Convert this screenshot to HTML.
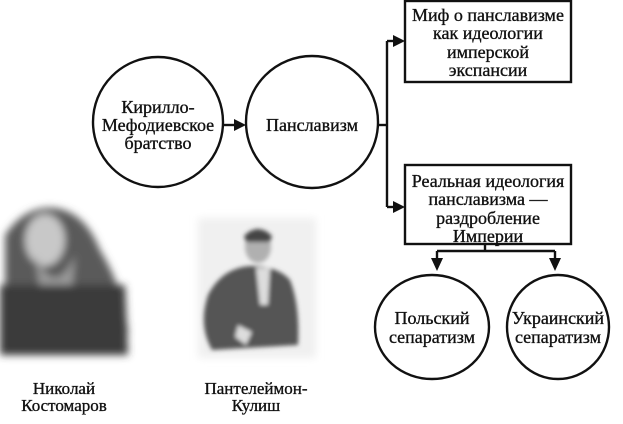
<!DOCTYPE html>
<html><head><meta charset="utf-8"><style>
html,body{margin:0;padding:0;background:#fff;}
svg{display:block;}
text{font-family:"Liberation Serif","DejaVu Serif",serif;font-size:18px;fill:#111;stroke:#111;stroke-width:0.35;text-anchor:middle;}
</style></head><body>
<svg width="623" height="424" viewBox="0 0 623 424" xmlns="http://www.w3.org/2000/svg">
<defs>
<filter id="bl" x="-20%" y="-20%" width="140%" height="140%"><feGaussianBlur stdDeviation="4"/></filter>
<filter id="bl2"><feGaussianBlur stdDeviation="2"/></filter>
</defs>
<g stroke="#111" stroke-width="2.4" fill="none">
<circle cx="158" cy="122" r="65"/>
<circle cx="312" cy="122" r="66"/>
<line x1="224" y1="125" x2="236" y2="125"/>
<line x1="378" y1="125" x2="387" y2="125"/>
<line x1="387" y1="41" x2="387" y2="207"/>
<line x1="387" y1="41" x2="394" y2="41"/>
<line x1="387" y1="207" x2="394" y2="207"/>
<rect x="405" y="1" width="166" height="81"/>
<rect x="405" y="165" width="166" height="79"/>
<line x1="485" y1="244" x2="485" y2="251"/>
<line x1="437" y1="251" x2="555" y2="251"/>
<line x1="437" y1="251" x2="437" y2="258"/>
<line x1="555" y1="251" x2="555" y2="258"/>
<ellipse cx="432" cy="327" rx="57" ry="52"/>
<ellipse cx="558" cy="327" rx="51" ry="52"/>
</g>
<g fill="#111">
<polygon points="246,125 234,119 234,131"/>
<polygon points="405,41 393,35 393,47"/>
<polygon points="405,207 393,201 393,213"/>
<polygon points="437,271 431,258 443,258"/>
<polygon points="555,271 549,258 561,258"/>
</g>
<text x="158" y="113">Кирилло-</text>
<text x="158" y="131">Мефодиевское</text>
<text x="158" y="149">братство</text>
<text x="312" y="131">Панславизм</text>
<text x="488" y="21">Миф о панславизме</text>
<text x="488" y="39">как идеологии</text>
<text x="488" y="58">имперской</text>
<text x="488" y="76">экспансии</text>
<text x="488" y="187">Реальная идеология</text>
<text x="488" y="205">панславизма —</text>
<text x="488" y="224">раздробление</text>
<text x="488" y="242">Империи</text>
<text x="432" y="324">Польский</text>
<text x="432" y="343">сепаратизм</text>
<text x="558" y="324">Украинский</text>
<text x="558" y="343">сепаратизм</text>
<!-- Kostomarov photo -->
<g filter="url(#bl)">
<path d="M5,235 Q25,205 55,208 Q85,212 100,250 Q122,285 128,330 L125,355 L5,355 Z" fill="#5a5a5a"/>
<ellipse cx="45" cy="240" rx="20" ry="26" fill="#c8c8c8"/>
<path d="M35,255 Q55,300 75,255 L72,290 L40,290 Z" fill="#9a9a9a"/>
<path d="M0,285 L125,285 L128,355 L0,355 Z" fill="#3a3a3a"/>
</g>
<!-- Kulish photo -->
<g filter="url(#bl)">
<rect x="198" y="218" width="118" height="140" fill="#f0f0f0"/>
</g>
<g filter="url(#bl2)">
<ellipse cx="258" cy="247" rx="13" ry="16" fill="#b0b0b0"/>
<path d="M244,236 Q258,222 272,236 L270,242 L246,242 Z" fill="#444"/>
<path d="M208,295 Q222,268 250,266 Q278,266 290,280 Q300,305 298,345 L212,350 Q198,325 208,295 Z" fill="#555"/>
<path d="M256,268 L270,268 L268,305 L260,305 Z" fill="#ddd"/>
<path d="M238,325 L252,332 L246,345 L235,337 Z" fill="#ddd"/>
</g>
<text x="64" y="394" style="font-size:17px">Николай</text>
<text x="64" y="411" style="font-size:17px">Костомаров</text>
<text x="256" y="394" style="font-size:17px">Пантелеймон-</text>
<text x="256" y="411" style="font-size:17px">Кулиш</text>
</svg>
</body></html>
